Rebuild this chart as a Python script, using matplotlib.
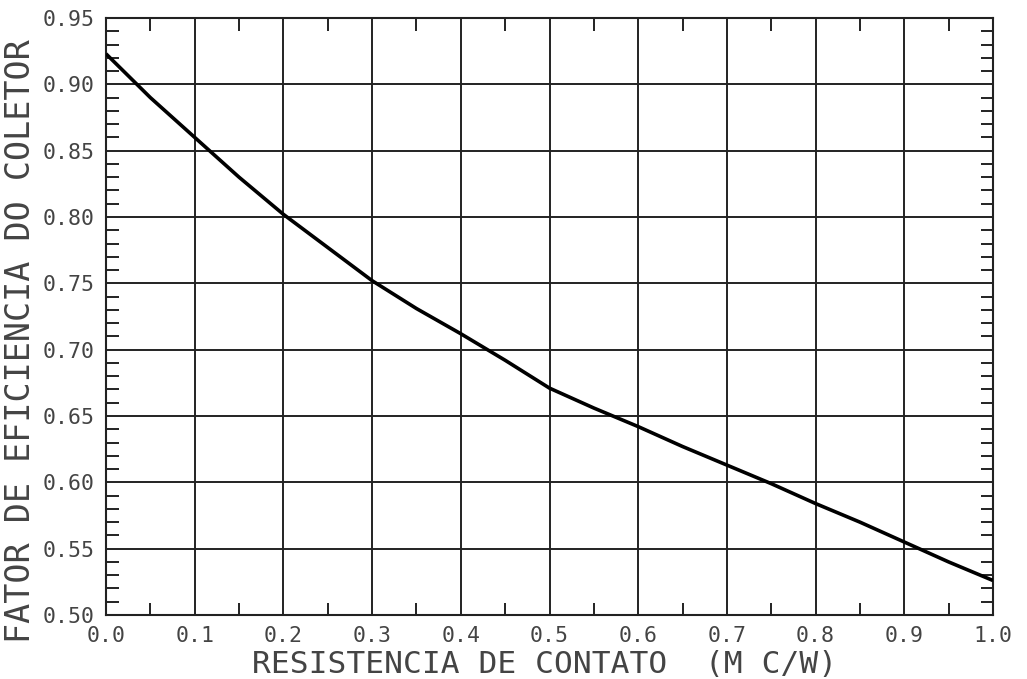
import matplotlib
matplotlib.use("Agg")
import matplotlib.pyplot as plt
from matplotlib.ticker import MultipleLocator, FormatStrFormatter

# Data
resistencia = [0.0, 0.05, 0.1, 0.15, 0.2, 0.25, 0.3, 0.35, 0.4, 0.45, 0.5,
               0.55, 0.6, 0.65, 0.7, 0.75, 0.8, 0.85, 0.9, 0.95, 1.0]
fator = [0.923, 0.890, 0.860, 0.830, 0.802, 0.777, 0.752, 0.731, 0.712, 0.692,
         0.671, 0.656, 0.642, 0.627, 0.613, 0.599, 0.584, 0.570, 0.555, 0.540, 0.526]

xlabel = "RESISTENCIA DE CONTATO  (M C/W)"
ylabel = "FATOR DE EFICIENCIA DO COLETOR"

plt.rcParams['font.family'] = ['DejaVu Sans Mono']

fig = plt.figure(figsize=(10.27, 6.79), dpi=100)
ax = fig.add_axes([106/1027, 1-615/679, (993-106)/1027, (615-18)/679])

ax.plot(resistencia, fator, color='black', linewidth=2.6, solid_capstyle='butt', zorder=3)

ax.set_xlim(0.0, 1.0)
ax.set_ylim(0.50, 0.95)

ax.xaxis.set_major_locator(MultipleLocator(0.1))
ax.xaxis.set_minor_locator(MultipleLocator(0.05))
ax.yaxis.set_major_locator(MultipleLocator(0.05))
ax.yaxis.set_minor_locator(MultipleLocator(0.01))
ax.xaxis.set_major_formatter(FormatStrFormatter('%.1f'))
ax.yaxis.set_major_formatter(FormatStrFormatter('%.2f'))

ax.grid(True, which='major', color='#222222', linewidth=1.4)
ax.tick_params(which='major', length=0, labelsize=15.5, colors='#444444', pad=8)
ax.tick_params(which='minor', direction='in', length=9, width=1.4,
               top=True, right=True, color='#222222')

for s in ax.spines.values():
    s.set_linewidth(1.5)
    s.set_color('#222222')

ax.set_xlabel(xlabel, fontsize=22.5, color='#444444')
ax.set_ylabel(ylabel, fontsize=24, color='#444444')
ax.xaxis.set_label_coords(0.494, -0.058)
ax.yaxis.set_label_coords(-0.078, 0.459)

fig.savefig("out.png", dpi=100, facecolor='white')
